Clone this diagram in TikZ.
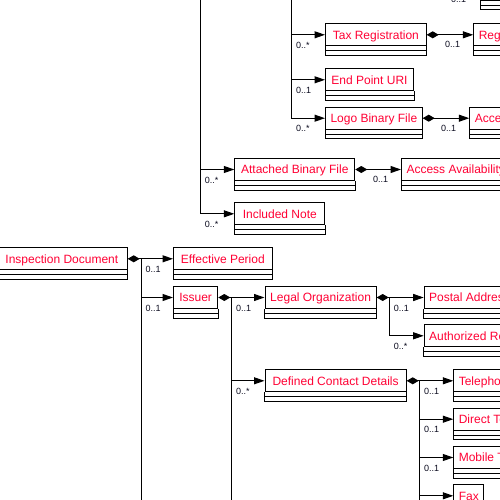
\documentclass[tikz,border=0pt]{standalone}
\usepackage{fontspec}
\setmainfont{Liberation Sans}
\usetikzlibrary{arrows.meta}
\definecolor{colorname}{RGB}{255,0,51}
\definecolor{colormult}{RGB}{10,10,30}
\newcommand{\umlbox}[4][]{%
    \node[cls,#1] (#2) at (#3) {#4};
    \draw[cmp] ([yshift=-4.5pt]#2.south west) -- ([yshift=-4.5pt]#2.south east)
        (#2.south west) -- ([yshift=-9pt]#2.south west) -- ([yshift=-9pt]#2.south east) -- (#2.south east);}

\begin{document}
\begin{tikzpicture}[
    x=1pt, y=-1pt,
    cls/.style={draw, line width=1pt, anchor=north west, inner xsep=5pt, inner ysep=0pt,
        text height=15.4pt, text depth=6.6pt, text=colorname, font={\fontsize{12}{14}\selectfont}},
    cmp/.style={line width=1pt},
    link/.style={line width=1pt, -{Triangle[length=10.5pt,width=7pt]}},
    owner/.style={line width=1pt, {Diamond[length=12pt,width=7pt]}-},
    ownlink/.style={line width=1pt, {Diamond[length=12pt,width=7pt]}-{Triangle[length=10.5pt,width=7pt]}},
    mult/.style={font={\fontsize{9}{10}\selectfont}, text=colormult, inner sep=0pt,
        text height=6.5pt, text depth=0pt, anchor=north west, xshift=4pt, yshift=-6.5pt},
    multmid/.style={font={\fontsize{9}{10}\selectfont}, text=colormult, inner sep=0pt,
        text height=6.5pt, text depth=0pt, anchor=north, xshift=2.5pt, yshift=-6pt},
]
    \useasboundingbox (0,0) rectangle (500,500);
    \clip (0,0) rectangle (500,500);

    \umlbox[minimum width=60pt]{upperbox}{480,-22}{}
    \umlbox[minimum width=100.7pt]{taxreg}{325,23.3}{Tax Registration}
    \umlbox{regist}{473.3,23.3}{Registration}
    \umlbox[minimum width=88pt]{epuri}{325,68.3}{End Point URI}
    \umlbox[minimum width=96.3pt]{logo}{325,106.7}{Logo Binary File}
    \umlbox{logoacc}{469.3,106.7}{Access}
    \umlbox[minimum width=120pt]{attbin}{234.3,158}{Attached Binary File}
    \umlbox{attacc}{401,158}{Access Availability}
    \umlbox[minimum width=90pt]{incnote}{234.3,202.3}{Included Note}

    \umlbox[minimum width=130.7pt]{idoc}{-4,247.3}{Inspection Document}
    \umlbox[minimum width=98.7pt]{effper}{173,247.3}{Effective Period}
    \umlbox[minimum width=44.3pt]{issuer}{173,286}{Issuer}
    \umlbox[minimum width=111.2pt]{legorg}{264.5,286}{Legal Organization}
    \umlbox{postal}{423.7,286}{Postal Address}
    \umlbox{authrep}{423.7,324.3}{Authorized Representative}
    \umlbox[minimum width=141.2pt]{dcd}{264.5,369.3}{Defined Contact Details}
    \umlbox{tel}{453.3,369.3}{Telephone}
    \umlbox{direct}{453.3,407.7}{Direct Telephone}
    \umlbox{mobile}{453.3,446}{Mobile Telephone}
    \umlbox[minimum width=30pt]{fax}{453.3,484.3}{Fax}

    \coordinate (upperowner) at (432,-11);
    \coordinate (partybus) at (291.7,-5);
    \coordinate (attbus) at (200.3,-5);
    \coordinate (idocend) at (141,505);
    \coordinate (issend) at (231.7,505);
    \coordinate (legorgend) at (389.3,335);
    \coordinate (dcdend) at (419.7,505);

    \draw[ownlink] (upperowner) -- node[multmid] {0..1} (upperbox.west);
    \draw[link] (partybus) |- node[mult] {0..*} (taxreg.west);
    \draw[ownlink] (taxreg.east) -- node[multmid] {0..1} (regist.west);
    \draw[link] (partybus) |- node[mult] {0..1} (epuri.west);
    \draw[link] (partybus) |- node[mult] {0..*} (logo.west);
    \draw[ownlink] (logo.east) -- node[multmid] {0..1} (logoacc.west);
    \draw[link] (attbus) |- node[mult] {0..*} (attbin.west);
    \draw[ownlink] (attbin.east) -- node[multmid] {0..1} (attacc.west);
    \draw[link] (attbus) |- node[mult] {0..*} (incnote.west);

    \draw[owner] (idoc.east) -| (idocend);
    \draw[link] (idocend) |- node[mult] {0..1} (effper.west);
    \draw[link] (idocend) |- node[mult] {0..1} (issuer.west);
    \draw[owner] (issuer.east) -| (issend);
    \draw[link] (issend) |- node[mult] {0..1} (legorg.west);
    \draw[link] (issend) |- node[mult] {0..*} (dcd.west);
    \draw[owner] (legorg.east) -| (legorgend);
    \draw[link] (legorgend) |- node[mult] {0..1} (postal.west);
    \draw[link] (legorgend) |- node[mult] {0..*} (authrep.west);
    \draw[owner] (dcd.east) -| (dcdend);
    \draw[link] (dcdend) |- node[mult] {0..1} (tel.west);
    \draw[link] (dcdend) |- node[mult] {0..1} (direct.west);
    \draw[link] (dcdend) |- node[mult] {0..1} (mobile.west);
    \draw[link] (dcdend) |- (fax.west);

\end{tikzpicture}
\end{document}
